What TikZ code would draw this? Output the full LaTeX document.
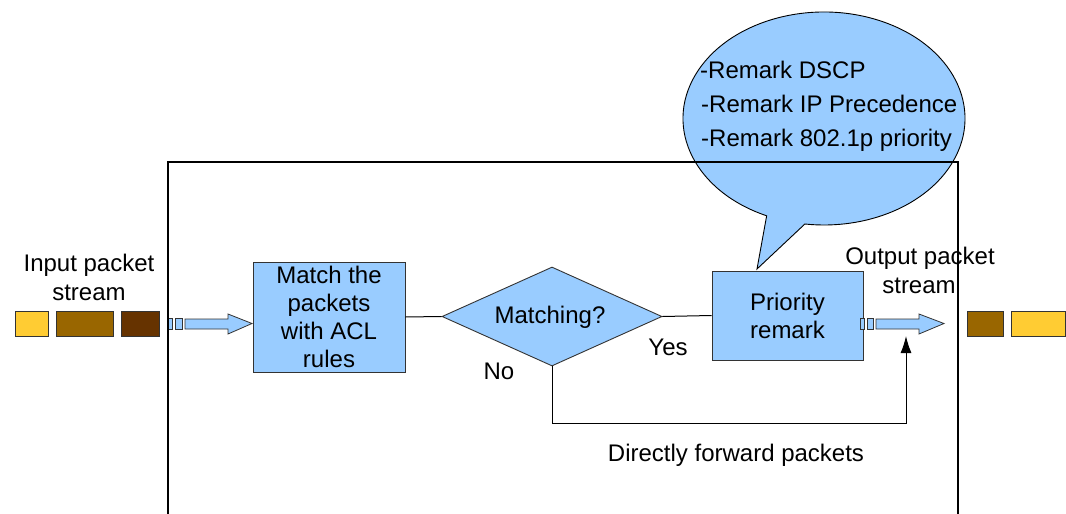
\documentclass[tikz,border=0pt]{standalone}
\usepackage{fontspec}
\setmainfont{Liberation Sans}
\usetikzlibrary{shapes.geometric,arrows.meta}
\definecolor{boxblue}{HTML}{99CCFF}
\definecolor{pktyellow}{HTML}{FFCC33}
\definecolor{pktbrown}{HTML}{996600}
\definecolor{pktdark}{HTML}{663300}
\definecolor{edge}{HTML}{333333}
\begin{document}
\begin{tikzpicture}[x=1pt,y=-1pt,
  every node/.style={font=\fontsize{24}{28}\selectfont, inner sep=0pt},
  procbox/.style={draw=edge, line width=0.9pt, fill=boxblue, align=center},
  decision/.style={diamond, draw=edge, line width=0.9pt, fill=boxblue, aspect=2.22,
                   minimum width=220pt, minimum height=99pt},
  packet/.style={draw=edge, line width=0.8pt, minimum height=25pt},
  fatarrow/.style={draw=edge, line width=0.8pt, fill=boxblue},
  link/.style={draw=black, line width=1pt},
  frameline/.style={draw=black, line width=1.1pt},
  label/.style={align=center}]
\useasboundingbox (0,0) rectangle (1066,514);

% speech bubble with its tail pointing at the remark box
\path[draw=black, line width=0.9pt, fill=boxblue]
  (757,269) -- (766.65,215.79)
  arc[start angle=114, end angle=457.8, x radius=141, y radius=106.5] -- cycle;
\node[anchor=base west] (r1) at (700,78) {-Remark DSCP};
\node[anchor=base west] (r2) at (701,112) {-Remark IP Precedence};
\node[anchor=base west] (r3) at (701,146) {-Remark 802.1p priority};

% incoming packets
\node[packet, fill=pktyellow, minimum width=33pt] (in1) at (31.5,323.5) {};
\node[packet, fill=pktbrown, minimum width=57pt] (in2) at (84.5,323.5) {};
\node[packet, fill=pktdark, minimum width=38pt] (in3) at (140,323.5) {};
\node[label, anchor=base] (inlab1) at (89,271) {Input packet};
\node[label, anchor=base] (inlab2) at (89,300) {stream};

% outgoing packets
\node[packet, fill=pktbrown, minimum width=36pt] (out1) at (985,323.5) {};
\node[packet, fill=pktyellow, minimum width=54pt] (out2) at (1038,323.5) {};
\node[label, anchor=base] (outlab1) at (920,264) {Output packet};
\node[label, anchor=base] (outlab2) at (919,293) {stream};

% processing steps
\node[procbox, minimum width=152pt, minimum height=110pt] (match) at (329,317)
  {Match the\\packets\\with ACL\\rules};
\node[decision] (dec) at (552,316.5) {};
\node[anchor=base] (dectext) at (550,323) {Matching?};
\node[procbox, minimum width=151pt, minimum height=89pt] (prio) at (787.5,315.5)
  {Priority\\remark};

% block arrows into and out of the flow
\draw[fatarrow] (168,318) rectangle (172,329);
\draw[fatarrow] (175,318) rectangle (182,329);
\draw[fatarrow] (185,319) -- (228,319) -- (228,314) -- (252,323.5) -- (228,334) -- (228,329) -- (185,329) -- cycle;
\draw[fatarrow] (860,318) rectangle (864,329);
\draw[fatarrow] (867,318) rectangle (873,329);
\draw[fatarrow] (876,319) -- (919,319) -- (919,314) -- (944,323.5) -- (919,334) -- (919,329) -- (876,329) -- cycle;
\coordinate (bypass) at (906,336);

% connectors
\draw[link] (match.east) -- (dec.west);
\draw[link] (dec.east) -- (prio.west);
\draw[link, -{Latex[length=17pt,width=11pt]}] (dec.south) -- (552,423) -- (906,423) -- (bypass);

\node[anchor=base] (yes) at (668,355) {Yes};
\node[anchor=base] (no) at (499,379) {No};
\node[anchor=base] (fwd) at (736,461) {Directly forward packets};

% device boundary
\draw[frameline] (168,514) -- (168,162) -- (958,162) -- (958,514);
\end{tikzpicture}
\end{document}
